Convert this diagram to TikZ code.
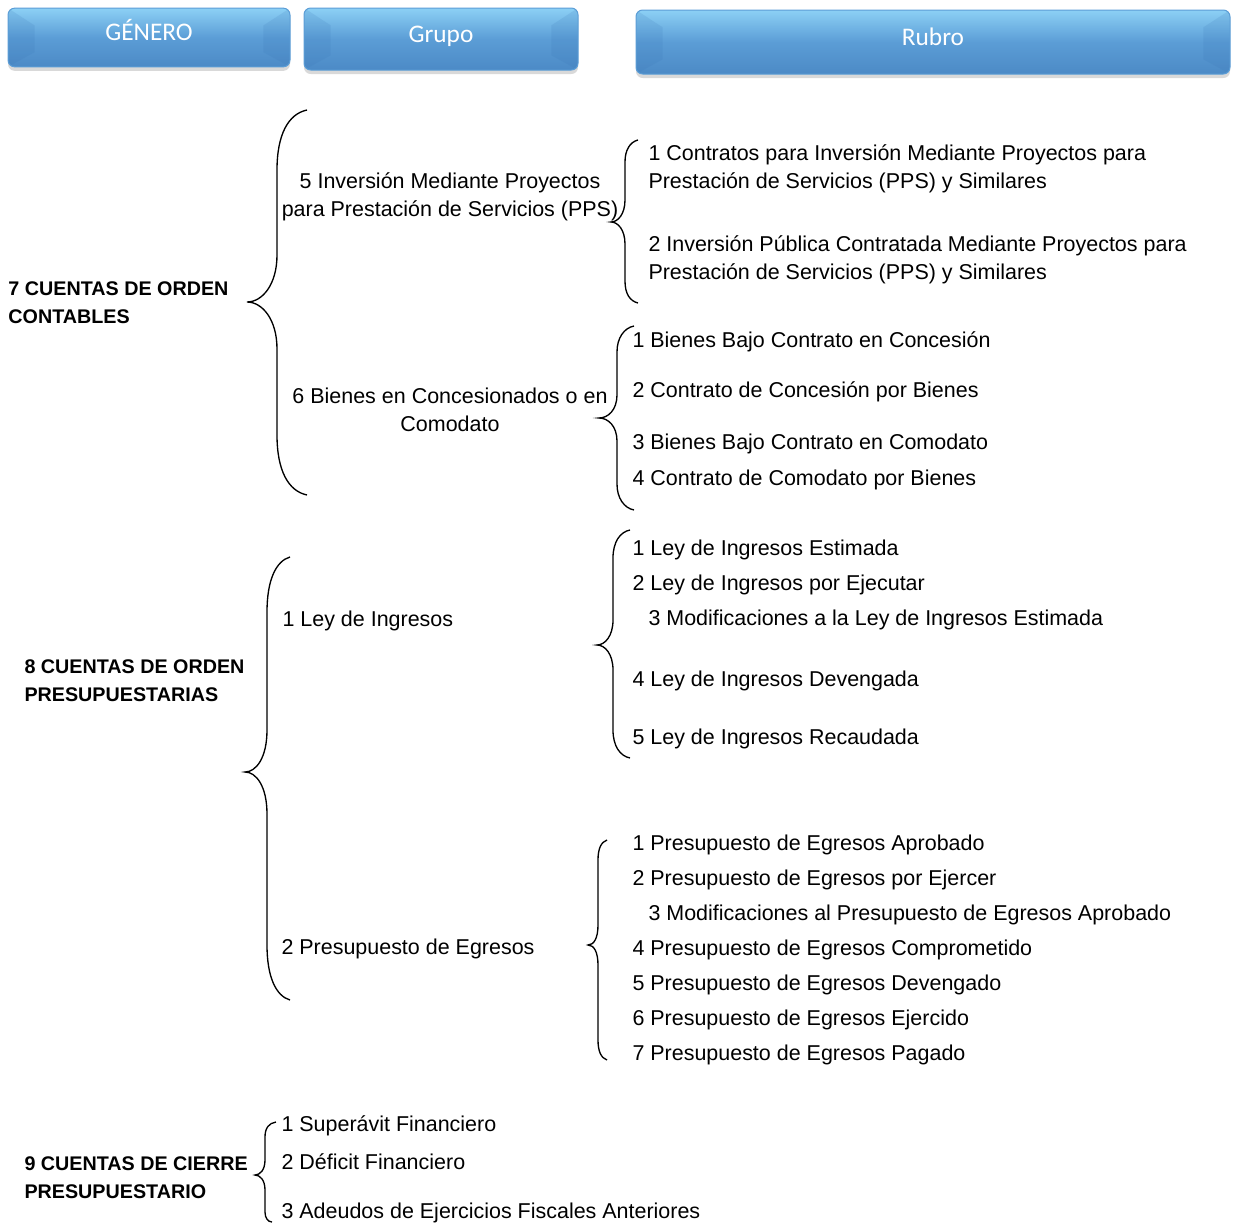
\documentclass[tikz,border=0pt]{standalone}
\usepackage{fontspec}
\setmainfont{Liberation Sans}
\newfontfamily\hdrfont{Carlito}
\usetikzlibrary{shadows}

\definecolor{hdrlight}{RGB}{140,208,245}
\definecolor{hdrmid}{RGB}{91,157,214}
\definecolor{hdrdark}{RGB}{76,138,198}
\definecolor{hdrside}{RGB}{55,115,180}

\tikzset{every picture/.style={line width=0.75pt}}
\tikzset{
  hdr/.style={rounded corners=5pt, top color=hdrlight, bottom color=hdrdark, middle color=hdrmid,
    draw=hdrmid, drop shadow={opacity=0.3, shadow xshift=0pt, shadow yshift=-3pt},
    text=white, font=\hdrfont\fontsize{19}{22}\selectfont, text height=12pt, text depth=7pt,
    path picture={
      \fill[hdrside, opacity=0.15, sharp corners] (path picture bounding box.north west) -- ([xshift=20pt,yshift=-13pt]path picture bounding box.north west) -- ([xshift=20pt,yshift=11pt]path picture bounding box.south west) -- (path picture bounding box.south west) -- cycle;
      \fill[hdrside, opacity=0.15, sharp corners] (path picture bounding box.north east) -- ([xshift=-20pt,yshift=-13pt]path picture bounding box.north east) -- ([xshift=-20pt,yshift=11pt]path picture bounding box.south east) -- (path picture bounding box.south east) -- cycle;
    }},
  gen/.style={font=\bfseries\fontsize{14.8}{21}\selectfont, align=left, anchor=west, inner sep=0pt, yshift=-1.5pt},
  grp/.style={font=\fontsize{16.1}{21}\selectfont, align=center, inner sep=0pt, yshift=-1.5pt},
  rub/.style={font=\fontsize{16.1}{21}\selectfont, align=left, anchor=west, inner sep=0pt, yshift=-1.5pt},
  brc/.style={line width=1pt}
}

\begin{document}
\begin{tikzpicture}[x=0.75pt,y=0.75pt,yscale=-1,xscale=1]
\useasboundingbox (0,0) rectangle (1233,1224);

%Header boxes
\draw (149,37.5) node (hgen) [hdr, minimum width=211.5pt, minimum height=44pt] {GÉNERO};
\draw (441,39) node (hgrp) [hdr, minimum width=205.5pt, minimum height=46.5pt] {Grupo};
\draw (933,42) node (hrub) [hdr, minimum width=445.5pt, minimum height=48pt] {Rubro};

%Shape: Brace [id:br7]
\draw [brc] (307,110) .. controls (288,114) and (277,135) .. (277,170) -- (277,255) .. controls (277,285) and (262,302) .. (247,302) .. controls (262,302) and (277,319) .. (277,349) -- (277,435) .. controls (277,470) and (288,491) .. (307,495) ;
%Shape: Brace [id:br8]
\draw [brc] (290,557) .. controls (276,561) and (267,580) .. (267,612) -- (267,730) .. controls (267,758) and (256,772) .. (245,772) .. controls (256,772) and (267,786) .. (267,814) -- (267,945) .. controls (267,977) and (276,996) .. (290,1000) ;
%Shape: Brace [id:br9]
\draw [brc] (276,1122) .. controls (269,1123) and (265,1128) .. (265,1137) -- (265,1160) .. controls (265,1170) and (260,1175) .. (255,1175) .. controls (260,1175) and (265,1180) .. (265,1190) -- (265,1212) .. controls (265,1218) and (268,1222) .. (272,1222) ;
%Shape: Brace [id:br75]
\draw [brc] (638,140) .. controls (630,142) and (625,150) .. (625,162) -- (625,200) .. controls (625,214) and (618,222) .. (611,222) .. controls (618,222) and (625,230) .. (625,244) -- (625,281) .. controls (625,294) and (630,301) .. (638,303) ;
%Shape: Brace [id:br76]
\draw [brc] (634,326) .. controls (624,328) and (617,338) .. (617,352) -- (617,395) .. controls (617,410) and (608,418) .. (599,418) .. controls (608,418) and (617,426) .. (617,441) -- (617,484) .. controls (617,498) and (624,508) .. (634,510) ;
%Shape: Brace [id:br81]
\draw [brc] (630,530) .. controls (620,532) and (613,542) .. (613,558) -- (613,620) .. controls (613,636) and (605,645) .. (597,645) .. controls (605,645) and (613,654) .. (613,670) -- (613,730) .. controls (613,746) and (620,756) .. (630,758) ;
%Shape: Brace [id:br82]
\draw [brc] (607,840) .. controls (601,842) and (598,849) .. (598,860) -- (598,925) .. controls (598,938) and (594,945) .. (588,945) .. controls (594,945) and (598,952) .. (598,965) -- (598,1040) .. controls (598,1051) and (601,1058) .. (607,1060) ;

% Text Node
\draw (8,301) node (g7) [gen] {7 CUENTAS DE ORDEN\\CONTABLES};
% Text Node
\draw (24,679) node (g8) [gen] {8 CUENTAS DE ORDEN\\PRESUPUESTARIAS};
% Text Node
\draw (24,1176) node (g9) [gen] {9 CUENTAS DE CIERRE\\PRESUPUESTARIO};

% Text Node
\draw (450,195) node (p75) [grp] {5 Inversión Mediante Proyectos\\para Prestación de Servicios (PPS)};
% Text Node
\draw (450,408) node (p76) [grp] {6 Bienes en Concesionados o en\\Comodato};
% Text Node
\draw (282,619) node (p81) [rub] {1 Ley de Ingresos};
% Text Node
\draw (281,947) node (p82) [rub] {2 Presupuesto de Egresos};

% Text Node
\draw (648,167) node (r751) [rub] {1 Contratos para Inversión Mediante Proyectos para\\Prestación de Servicios (PPS) y Similares};
% Text Node
\draw (648,258) node (r752) [rub] {2 Inversión Pública Contratada Mediante Proyectos para\\Prestación de Servicios (PPS) y Similares};

% Text Node
\draw (632,340) node (r761) [rub] {1 Bienes Bajo Contrato en Concesión};
% Text Node
\draw (632,390) node (r762) [rub] {2 Contrato de Concesión por Bienes};
% Text Node
\draw (632,442) node (r763) [rub] {3 Bienes Bajo Contrato en Comodato};
% Text Node
\draw (632,478) node (r764) [rub] {4 Contrato de Comodato por Bienes};

% Text Node
\draw (632,548) node (r811) [rub] {1 Ley de Ingresos Estimada};
% Text Node
\draw (632,583) node (r812) [rub] {2 Ley de Ingresos por Ejecutar};
% Text Node
\draw (648,618) node (r813) [rub] {3 Modificaciones a la Ley de Ingresos Estimada};
% Text Node
\draw (632,679) node (r814) [rub] {4 Ley de Ingresos Devengada};
% Text Node
\draw (632,737) node (r815) [rub] {5 Ley de Ingresos Recaudada};

% Text Node
\draw (632,843) node (r821) [rub] {1 Presupuesto de Egresos Aprobado};
% Text Node
\draw (632,878) node (r822) [rub] {2 Presupuesto de Egresos por Ejercer};
% Text Node
\draw (648,913) node (r823) [rub] {3 Modificaciones al Presupuesto de Egresos Aprobado};
% Text Node
\draw (632,948) node (r824) [rub] {4 Presupuesto de Egresos Comprometido};
% Text Node
\draw (632,983) node (r825) [rub] {5 Presupuesto de Egresos Devengado};
% Text Node
\draw (632,1018) node (r826) [rub] {6 Presupuesto de Egresos Ejercido};
% Text Node
\draw (632,1053) node (r827) [rub] {7 Presupuesto de Egresos Pagado};

% Text Node
\draw (281,1124) node (r91) [rub] {1 Superávit Financiero};
% Text Node
\draw (281,1160) node (r92) [rub] {2 Déficit Financiero};
% Text Node
\draw (281,1211) node (r93) [rub] {3 Adeudos de Ejercicios Fiscales Anteriores};

\end{tikzpicture}
\end{document}
